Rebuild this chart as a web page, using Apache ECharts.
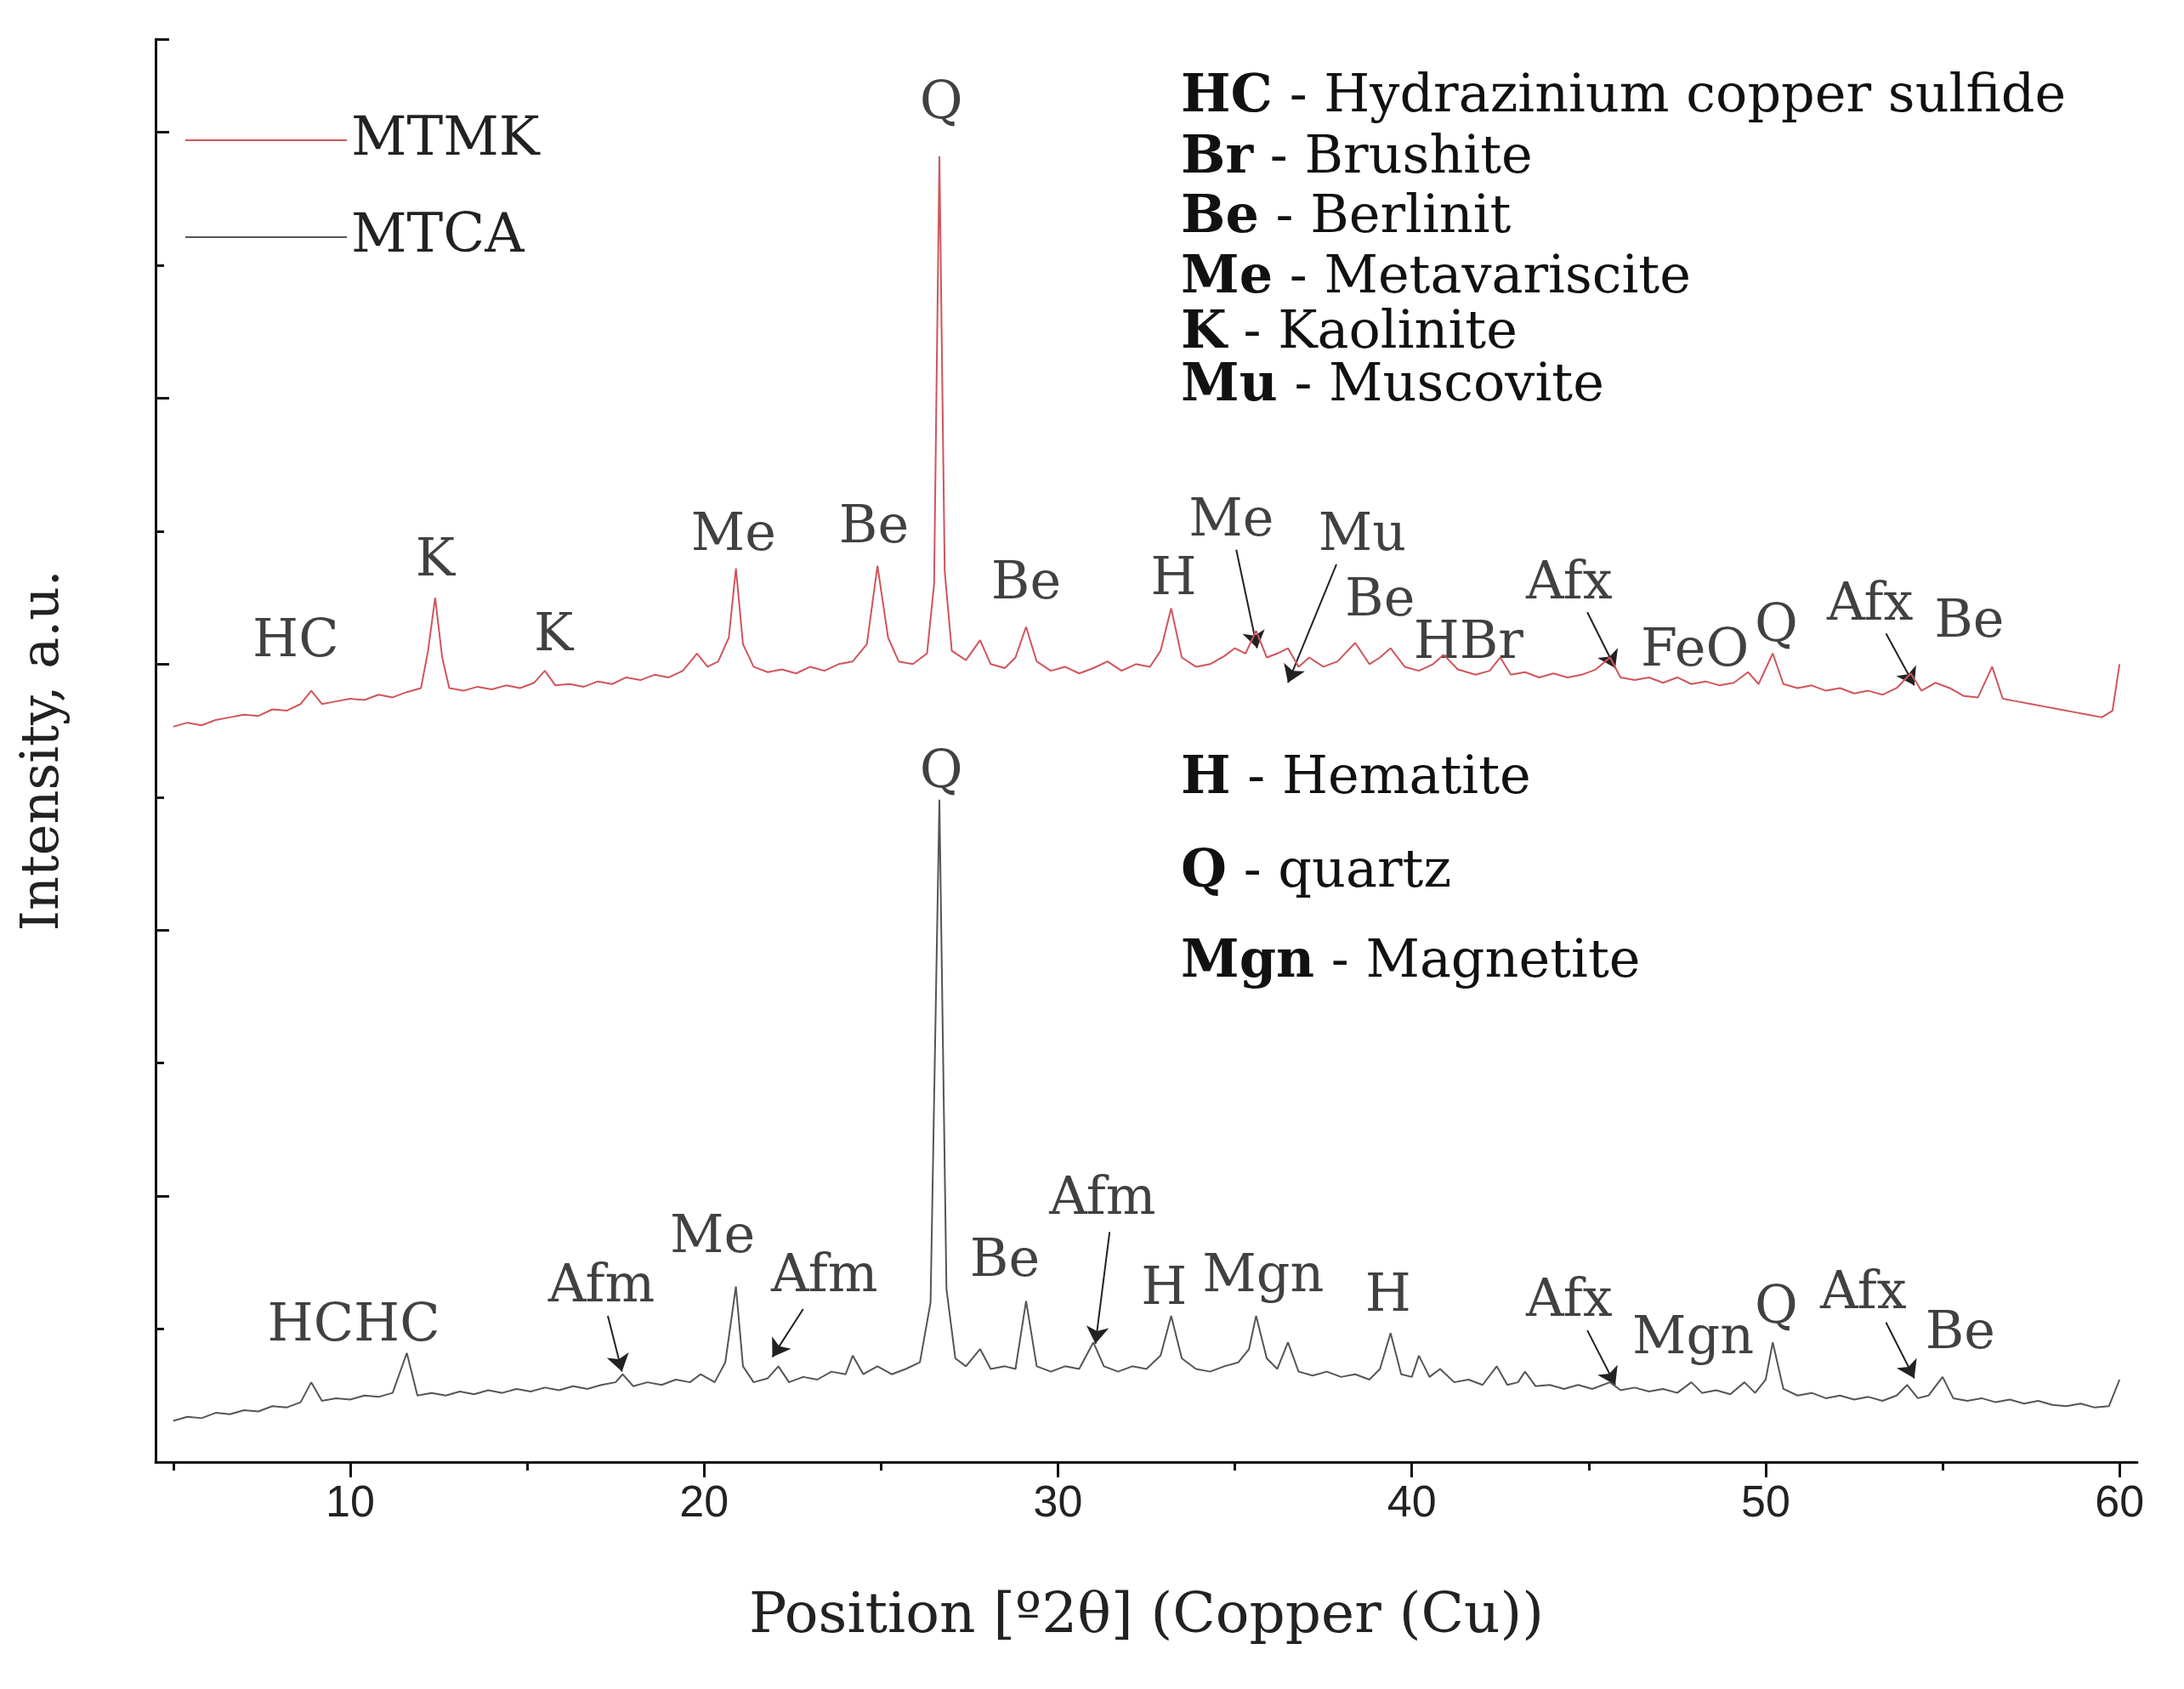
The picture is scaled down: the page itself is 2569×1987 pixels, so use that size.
<!DOCTYPE html>
<html>
<head>
<meta charset="utf-8">
<script src="https://cdn.jsdelivr.net/npm/echarts@6/dist/echarts.min.js"></script>
<style>html,body{margin:0;background:#fff}#chart{width:2569px;height:1987px}</style>
</head>
<body>
<div id="chart"></div>
<script>
// XRD patterns, [2theta, intensity (a.u., offset)]
const mtmk = [[5.0,5.53],[5.4,5.56],[5.8,5.54],[6.2,5.58],[6.6,5.6],[7.0,5.62],[7.4,5.61],[7.8,5.66],[8.2,5.65],[8.6,5.7],[8.9,5.8],[9.2,5.7],[9.6,5.72],[10.0,5.74],[10.4,5.73],[10.8,5.77],[11.2,5.75],[11.6,5.79],[12.0,5.82],[12.2,6.1],[12.4,6.5],[12.6,6.05],[12.8,5.82],[13.2,5.8],[13.6,5.83],[14.0,5.81],[14.4,5.84],[14.8,5.82],[15.2,5.86],[15.5,5.95],[15.8,5.84],[16.2,5.85],[16.6,5.83],[17.0,5.87],[17.4,5.85],[17.8,5.9],[18.2,5.88],[18.6,5.92],[19.0,5.9],[19.4,5.95],[19.8,6.08],[20.1,5.98],[20.4,6.02],[20.7,6.2],[20.9,6.72],[21.1,6.15],[21.4,5.98],[21.8,5.94],[22.2,5.96],[22.6,5.93],[23.0,5.98],[23.4,5.95],[23.8,6.0],[24.2,6.02],[24.6,6.15],[24.9,6.74],[25.2,6.2],[25.5,6.02],[25.9,6.0],[26.3,6.08],[26.5,6.6],[26.65,9.82],[26.8,6.7],[27.0,6.1],[27.4,6.03],[27.8,6.18],[28.1,6.0],[28.5,5.97],[28.8,6.05],[29.1,6.28],[29.4,6.02],[29.8,5.95],[30.2,5.98],[30.6,5.93],[31.0,5.97],[31.4,6.02],[31.8,5.95],[32.2,6.0],[32.6,5.98],[32.9,6.1],[33.2,6.42],[33.5,6.05],[33.9,5.98],[34.3,6.0],[34.7,6.06],[35.0,6.12],[35.3,6.08],[35.6,6.25],[35.9,6.05],[36.2,6.08],[36.5,6.12],[36.8,5.98],[37.1,6.05],[37.5,5.98],[37.9,6.02],[38.4,6.16],[38.8,6.0],[39.1,6.05],[39.4,6.12],[39.8,5.98],[40.2,5.95],[40.6,6.0],[40.9,6.07],[41.3,5.96],[41.8,5.92],[42.2,5.95],[42.5,6.05],[42.8,5.92],[43.2,5.94],[43.6,5.9],[44.0,5.93],[44.4,5.9],[44.8,5.92],[45.2,5.96],[45.6,6.05],[45.9,5.9],[46.3,5.88],[46.7,5.9],[47.1,5.86],[47.5,5.9],[47.9,5.85],[48.3,5.87],[48.7,5.84],[49.1,5.86],[49.5,5.94],[49.8,5.85],[50.2,6.08],[50.5,5.85],[50.9,5.82],[51.3,5.84],[51.7,5.8],[52.1,5.82],[52.5,5.78],[52.9,5.8],[53.3,5.77],[53.7,5.82],[54.1,5.93],[54.4,5.8],[54.8,5.86],[55.2,5.82],[55.6,5.76],[56.0,5.75],[56.4,5.98],[56.7,5.74],[57.1,5.72],[57.5,5.7],[57.9,5.68],[58.3,5.66],[58.7,5.64],[59.1,5.62],[59.5,5.6],[59.8,5.65],[60.0,6.0]];

const mtca = [[5.0,0.31],[5.4,0.34],[5.8,0.33],[6.2,0.37],[6.6,0.36],[7.0,0.39],[7.4,0.38],[7.8,0.42],[8.2,0.41],[8.6,0.45],[8.9,0.6],[9.2,0.46],[9.6,0.48],[10.0,0.47],[10.4,0.5],[10.8,0.49],[11.2,0.52],[11.6,0.82],[11.9,0.5],[12.3,0.52],[12.7,0.5],[13.1,0.53],[13.5,0.51],[13.9,0.54],[14.3,0.52],[14.7,0.55],[15.1,0.53],[15.5,0.56],[15.9,0.54],[16.3,0.57],[16.7,0.55],[17.1,0.58],[17.5,0.6],[17.7,0.66],[18.0,0.57],[18.4,0.6],[18.8,0.58],[19.2,0.62],[19.6,0.6],[19.9,0.66],[20.3,0.6],[20.6,0.75],[20.9,1.32],[21.1,0.72],[21.4,0.6],[21.8,0.63],[22.1,0.72],[22.4,0.6],[22.8,0.64],[23.2,0.62],[23.6,0.68],[24.0,0.66],[24.2,0.8],[24.5,0.66],[24.9,0.72],[25.3,0.66],[25.7,0.7],[26.1,0.75],[26.4,1.2],[26.65,4.98],[26.85,1.3],[27.1,0.78],[27.4,0.72],[27.8,0.85],[28.1,0.7],[28.5,0.72],[28.8,0.7],[29.1,1.21],[29.4,0.72],[29.8,0.68],[30.2,0.72],[30.6,0.7],[31.0,0.9],[31.3,0.72],[31.7,0.68],[32.1,0.72],[32.5,0.7],[32.9,0.8],[33.2,1.1],[33.5,0.78],[33.9,0.7],[34.3,0.68],[34.7,0.72],[35.1,0.75],[35.4,0.85],[35.6,1.1],[35.9,0.78],[36.2,0.7],[36.5,0.9],[36.8,0.68],[37.2,0.65],[37.6,0.68],[38.0,0.64],[38.4,0.66],[38.8,0.62],[39.1,0.7],[39.4,0.97],[39.7,0.66],[40.0,0.64],[40.2,0.8],[40.5,0.64],[40.8,0.7],[41.2,0.6],[41.6,0.62],[42.0,0.58],[42.4,0.72],[42.7,0.58],[43.0,0.6],[43.2,0.68],[43.5,0.57],[43.9,0.58],[44.3,0.55],[44.7,0.58],[45.1,0.55],[45.6,0.6],[45.9,0.54],[46.3,0.56],[46.7,0.53],[47.1,0.55],[47.5,0.52],[47.9,0.6],[48.2,0.52],[48.6,0.54],[49.0,0.51],[49.4,0.6],[49.7,0.52],[50.0,0.62],[50.2,0.9],[50.5,0.55],[50.9,0.5],[51.3,0.52],[51.7,0.48],[52.1,0.5],[52.5,0.47],[52.9,0.49],[53.3,0.46],[53.7,0.5],[54.0,0.58],[54.3,0.48],[54.6,0.5],[55.0,0.64],[55.3,0.48],[55.7,0.46],[56.1,0.48],[56.5,0.45],[56.9,0.47],[57.3,0.44],[57.7,0.46],[58.1,0.43],[58.5,0.42],[58.9,0.44],[59.3,0.41],[59.7,0.42],[60.0,0.62]];

// peak labels [x, y, text]
const peakLabels = [
  [8.46,6.16,'HC'],[12.4,6.77,'K'],[15.75,6.21,'K'],[20.83,6.96,'Me'],[24.8,7.02,'Be'],
  [26.7,10.21,'Q'],[29.1,6.6,'Be'],[33.27,6.63,'H'],[34.9,7.07,'Me'],[38.6,6.96,'Mu'],
  [39.1,6.47,'Be'],[41.6,6.15,'HBr'],[44.45,6.6,'Afx'],[48.0,6.09,'FeO'],[50.3,6.28,'Q'],
  [52.95,6.44,'Afx'],[55.75,6.31,'Be'],
  [26.7,5.18,'Q'],[10.1,1.02,'HCHC'],[17.1,1.31,'Afm'],[20.24,1.68,'Me'],[23.4,1.39,'Afm'],
  [28.5,1.5,'Be'],[31.26,1.97,'Afm'],[33.0,1.29,'H'],[35.8,1.39,'Mgn'],[39.33,1.24,'H'],
  [44.45,1.2,'Afx'],[47.95,0.92,'Mgn'],[50.3,1.15,'Q'],[52.76,1.26,'Afx'],[55.5,0.96,'Be']
];

// arrows [[x0,y0],[x1,y1]]
const arrows = [
  [[35.04,6.86],[35.63,6.12]],[[37.87,6.75],[36.5,5.86]],[[44.96,6.39],[45.75,5.97]],
  [[53.4,6.23],[54.2,5.84]],[[17.28,1.1],[17.68,0.68]],[[22.8,1.15],[21.93,0.79]],
  [[31.46,1.73],[31.06,0.89]],[[44.96,0.99],[45.75,0.58]],[[53.4,1.05],[54.2,0.63]]
];

const phasesTop = [['HC','Hydrazinium copper sulfide'],['Br','Brushite'],['Be','Berlinit'],['Me','Metavariscite'],['K','Kaolinite'],['Mu','Muscovite']];
const phasesBottom = [['H','Hematite'],['Q','quartz'],['Mgn','Magnetite']];
const topY = [120, 192, 262, 333, 398, 460];
const bottomY = [922, 1032, 1138];

const font = 'DejaVu Serif';
const chart = echarts.init(document.getElementById('chart'));

const phaseText = (p, y) => ({
  type: 'text', left: 1389, top: y - 36,
  style: {
    text: '{b|' + p[0] + '} - ' + p[1],
    fontFamily: font, fontSize: 62, fill: '#111',
    rich: { b: { fontWeight: 'bold', fontFamily: font, fontSize: 62, fill: '#111' } }
  }
});

chart.setOption({
  animation: false,
  backgroundColor: '#fff',
  grid: { left: 183, right: 55, top: 46, bottom: 267 },
  legend: {
    orient: 'vertical', left: 213, top: 128, itemWidth: 190, itemHeight: 20, itemGap: 50,
    textStyle: { fontFamily: font, fontSize: 64, color: '#222' },
    data: [{ name: 'MTMK', icon: 'path://M0,10L100,10L100,11L0,11Z' }, { name: 'MTCA', icon: 'path://M0,10L100,10L100,11L0,11Z' }]
  },
  xAxis: [{
    type: 'value', min: 4.5, max: 60.5,
    name: 'Position [º2θ] (Copper (Cu))', nameLocation: 'middle', nameGap: 150,
    nameTextStyle: { fontFamily: font, fontSize: 66, color: '#222' },
    axisLine: { lineStyle: { color: '#111', width: 3 } },
    axisTick: { customValues: [10,20,30,40,50,60], length: 18, lineStyle: { color: '#111', width: 3 } },
    axisLabel: { customValues: [10,20,30,40,50,60], fontFamily: 'Liberation Sans', fontSize: 52, color: '#222', margin: 24 },
    splitLine: { show: false }
  }, {
    type: 'value', min: 4.5, max: 60.5, position: 'bottom',
    axisLine: { show: false },
    axisTick: { customValues: [5,15,25,35,45,55], length: 10, lineStyle: { color: '#111', width: 3 } },
    axisLabel: { show: false }, splitLine: { show: false }
  }],
  yAxis: {
    type: 'value', min: 0, max: 10.7, interval: 2,
    name: 'Intensity, a.u.', nameLocation: 'middle', nameGap: 100,
    nameTextStyle: { fontFamily: font, fontSize: 62, color: '#222' },
    axisLine: { show: true, lineStyle: { color: '#111', width: 3 } },
    axisTick: { show: true, inside: true, length: 16, lineStyle: { color: '#111', width: 3 } },
    minorTick: { show: true, splitNumber: 2, length: 10, lineStyle: { color: '#111', width: 3 } },
    axisLabel: { show: false }, splitLine: { show: false }
  },
  series: [
    { name: 'MTMK', type: 'line', data: mtmk, symbol: 'none', color: '#d0555a', lineStyle: { width: 2 } },
    { name: 'MTCA', type: 'line', data: mtca, symbol: 'none', color: '#555', lineStyle: { width: 2 } },
    {
      type: 'scatter', data: peakLabels, symbolSize: 0, silent: true,
      label: { show: true, position: 'inside', formatter: p => p.data[2], fontFamily: font, fontSize: 62, color: '#111' }
    },
    {
      type: 'lines', coordinateSystem: 'cartesian2d', silent: true,
      symbol: ['none', 'arrow'], symbolSize: 20,
      lineStyle: { color: '#222', width: 2, opacity: 1 },
      data: arrows.map(a => ({ coords: a }))
    }
  ],
  graphic: phasesTop.map((p, i) => phaseText(p, topY[i])).concat(phasesBottom.map((p, i) => phaseText(p, bottomY[i])))
});
</script>
</body>
</html>
